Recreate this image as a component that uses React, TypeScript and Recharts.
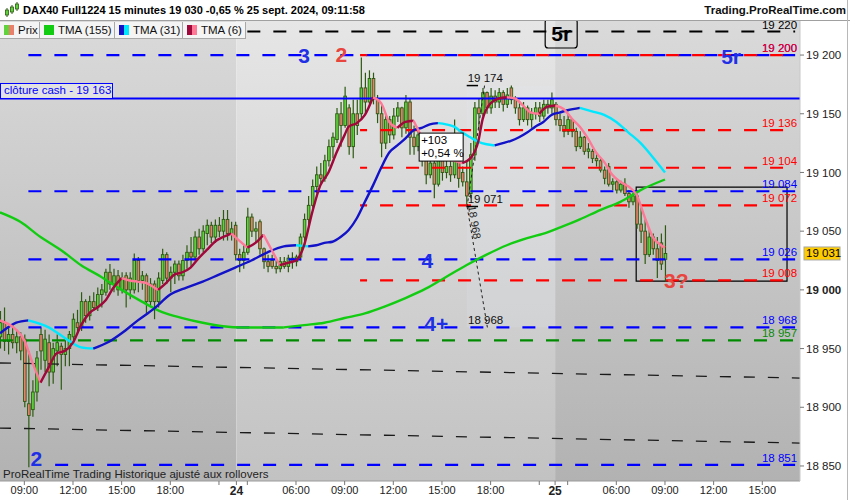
import React from "react";
import {
  ComposedChart,
  Bar,
  Line,
  XAxis,
  YAxis,
  ReferenceLine,
  ReferenceArea,
  ReferenceDot,
} from "recharts";

const FONT = "'Liberation Sans', Arial, sans-serif";
const W = 850;
const H = 500;

// visible window: slot 0 = 23 sept 07:30, one slot per 15-minute bar
const SLOT_MAX = 197.3;
const PRICE_MIN = 18837.2;
const PRICE_MAX = 19229;

// open, high, low, close of each 15-minute bar
const candles: [number, number, number, number][] = [
  [18960, 18982, 18950, 18972], [18972, 18985, 18948, 18956], [18956, 18968, 18945, 18962],
  [18962, 18970, 18950, 18955], [18955, 18966, 18946, 18960], [18960, 18964, 18940, 18948],
  [18958, 18962, 18900, 18905], [18903, 18948, 18849, 18893], [18898, 18923, 18892, 18913],
  [18913, 18948, 18905, 18942], [18962, 18968, 18932, 18948], [18940, 18966, 18930, 18958],
  [18955, 18962, 18918, 18930], [18930, 18955, 18920, 18950], [18948, 18962, 18935, 18955],
  [18952, 18955, 18915, 18945], [18945, 18957, 18935, 18950], [18950, 18965, 18935, 18962],
  [18960, 18980, 18955, 18975], [18972, 18983, 18962, 18968], [18968, 18998, 18965, 18990],
  [18990, 18992, 18972, 18978], [18978, 18995, 18974, 18990], [18990, 18998, 18982, 18985],
  [18986, 19002, 18982, 18996], [18996, 19005, 18985, 19000], [18998, 19018, 18995, 19015],
  [19015, 19022, 19000, 19005], [19005, 19018, 18998, 19012], [19012, 19017, 18995, 19000],
  [19000, 19015, 18997, 19010], [19012, 19015, 18985, 19000], [19000, 19015, 18992, 19010],
  [19000, 19031, 18997, 19025], [19025, 19028, 18998, 19008], [19008, 19016, 19000, 19012],
  [19012, 19014, 18980, 18990], [18990, 19010, 18987, 19005], [19005, 19008, 18975, 18990],
  [18990, 19015, 18985, 19010], [19008, 19035, 19005, 19030], [19030, 19032, 19005, 19010],
  [19010, 19020, 18998, 19015], [19015, 19025, 19005, 19022], [19022, 19025, 19008, 19012],
  [19012, 19030, 19008, 19025], [19025, 19038, 19018, 19032], [19032, 19045, 19020, 19028],
  [19028, 19050, 19025, 19045], [19045, 19052, 19030, 19035], [19035, 19055, 19032, 19050],
  [19048, 19060, 19038, 19055], [19055, 19058, 19040, 19045], [19045, 19060, 19040, 19055],
  [19055, 19062, 19045, 19050], [19050, 19068, 19042, 19060], [19060, 19068, 19042, 19048],
  [19048, 19058, 19042, 19052],
  // 24 sept
  [19055, 19058, 19025, 19030], [19030, 19035, 19015, 19025], [19025, 19038, 19018, 19032],
  [19032, 19070, 19030, 19062], [19062, 19065, 19045, 19050], [19050, 19058, 19040, 19052],
  [19058, 19060, 19030, 19035], [19035, 19036, 19018, 19024], [19024, 19030, 19015, 19020],
  [19025, 19030, 19018, 19020], [19020, 19025, 19014, 19018], [19018, 19028, 19015, 19024],
  [19024, 19028, 19018, 19020], [19020, 19030, 19015, 19027], [19027, 19032, 19018, 19024],
  [19024, 19030, 19020, 19028], [19028, 19048, 19025, 19045], [19045, 19065, 19038, 19060],
  [19060, 19080, 19055, 19072], [19072, 19094, 19070, 19088], [19088, 19105, 19082, 19098],
  [19098, 19108, 19090, 19095], [19095, 19115, 19092, 19110], [19110, 19128, 19105, 19122],
  [19122, 19134, 19112, 19130], [19128, 19155, 19125, 19150], [19150, 19160, 19122, 19140],
  [19140, 19173, 19138, 19165], [19155, 19158, 19115, 19122], [19122, 19162, 19112, 19150],
  [19150, 19162, 19132, 19140], [19150, 19198, 19145, 19172], [19172, 19185, 19150, 19160],
  [19160, 19187, 19158, 19180], [19180, 19185, 19158, 19163], [19163, 19166, 19142, 19150],
  [19150, 19158, 19113, 19125], [19125, 19150, 19120, 19145], [19145, 19148, 19125, 19132],
  [19132, 19155, 19128, 19148], [19148, 19160, 19143, 19155], [19155, 19156, 19130, 19138],
  [19138, 19166, 19133, 19160], [19160, 19163, 19115, 19130], [19130, 19140, 19115, 19122],
  [19122, 19138, 19118, 19132], [19132, 19133, 19105, 19112], [19112, 19118, 19090, 19098],
  [19098, 19115, 19095, 19108], [19108, 19112, 19078, 19090], [19090, 19120, 19088, 19112],
  [19112, 19113, 19093, 19100], [19100, 19110, 19095, 19105], [19105, 19118, 19092, 19098],
  [19098, 19145, 19095, 19112], [19112, 19115, 19087, 19095], [19100, 19105, 19088, 19092],
  [19092, 19110, 19071, 19080], [19082, 19125, 19078, 19115], [19115, 19160, 19110, 19155],
  [19155, 19163, 19135, 19150], [19150, 19172, 19148, 19168], [19168, 19169, 19150, 19155],
  [19155, 19172, 19150, 19165], [19165, 19170, 19155, 19160], [19160, 19172, 19155, 19168],
  [19168, 19170, 19152, 19158], [19158, 19172, 19155, 19166], [19172, 19174, 19158, 19162],
  [19162, 19165, 19150, 19155], [19155, 19160, 19140, 19145], [19145, 19160, 19143, 19155],
  [19155, 19157, 19140, 19145], [19145, 19155, 19138, 19150], [19150, 19160, 19145, 19155],
  [19155, 19160, 19143, 19148], [19148, 19162, 19145, 19158], [19158, 19162, 19150, 19155],
  [19155, 19168, 19150, 19162],
  // 25 sept
  [19158, 19160, 19140, 19145], [19145, 19150, 19135, 19140], [19140, 19148, 19130, 19135],
  [19135, 19150, 19132, 19145], [19145, 19146, 19130, 19135], [19135, 19138, 19118, 19122],
  [19122, 19135, 19120, 19130], [19130, 19131, 19115, 19118], [19118, 19125, 19112, 19120],
  [19118, 19120, 19108, 19112], [19112, 19116, 19105, 19110], [19110, 19112, 19100, 19102],
  [19102, 19105, 19090, 19095], [19105, 19108, 19088, 19090], [19090, 19095, 19085, 19092],
  [19092, 19094, 19082, 19085], [19085, 19093, 19083, 19090], [19090, 19095, 19080, 19082],
  [19082, 19085, 19070, 19075], [19075, 19083, 19072, 19080], [19080, 19082, 19052, 19056],
  [19056, 19070, 19040, 19050], [19050, 19060, 19022, 19030], [19030, 19052, 19028, 19045],
  [19045, 19048, 19030, 19035], [19035, 19045, 19010, 19025], [19040, 19048, 19017, 19022],
  [19026, 19055, 19007, 19031],
];

// moving averages, [slot, value]
const tma155: [number, number][] = [
  [0, 19066], [5, 19058], [10, 19045], [15, 19034], [20, 19021], [25, 19011], [30, 19000],
  [35, 18990], [40, 18981], [45, 18976], [50, 18972], [55, 18969], [60, 18968], [65, 18968],
  [70, 18968], [75, 18970], [80, 18972], [85, 18976], [90, 18980], [95, 18986], [100, 18993],
  [105, 19001], [110, 19011], [115, 19021], [120, 19030], [125, 19038], [130, 19044],
  [135, 19049], [138, 19053], [143, 19060], [148, 19068], [153, 19075], [158, 19085], [164, 19094],
];

const tma31: [number, number][] = [
  [0, 18963], [4, 18972], [7, 18974], [12, 18968], [16, 18959], [20, 18951], [23, 18950],
  [27, 18956], [30, 18963], [34, 18974], [38, 18984], [42, 18996], [46, 19002], [50, 19007],
  [54, 19013], [58, 19019], [62, 19025], [66, 19032], [70, 19037], [73, 19038], [76, 19037],
  [78, 19038], [80, 19040], [82, 19041], [84, 19045], [86, 19051], [88, 19061], [90, 19075],
  [92, 19089], [94, 19104], [96, 19117], [98, 19123], [100, 19129], [102, 19136], [104, 19138],
  [106, 19141], [108, 19142], [110, 19141], [112, 19139], [114, 19134], [116, 19130],
  [118, 19126], [120, 19124], [122, 19123], [124, 19125], [126, 19127], [128, 19130],
  [130, 19134], [132, 19139], [134, 19143], [136, 19149], [138, 19151], [140, 19153],
  [143, 19155], [146, 19152], [149, 19149], [152, 19143], [155, 19134], [158, 19125],
  [161, 19113], [164, 19100],
];

const tma6: [number, number][] = [
  [0, 18974], [2, 18971], [4, 18966], [6, 18957], [8, 18938], [10, 18921], [12, 18934],
  [14, 18946], [16, 18948], [18, 18955], [20, 18970], [22, 18980], [24, 18985], [26, 18991],
  [28, 19002], [30, 19010], [32, 19008], [34, 19007], [36, 19006], [38, 19002], [39, 19000],
  [41, 19006], [43, 19013], [45, 19015], [47, 19019], [49, 19027], [51, 19034], [53, 19041],
  [55, 19045], [57, 19048], [59, 19042], [61, 19036], [63, 19040], [65, 19047], [67, 19034],
  [69, 19021], [71, 19023], [73, 19025], [75, 19038], [77, 19066], [79, 19089], [81, 19100],
  [83, 19117], [85, 19132], [86, 19139], [88, 19142], [90, 19149], [92, 19164], [94, 19159],
  [96, 19143], [98, 19138], [100, 19143], [102, 19144], [104, 19130], [106, 19115],
  [108, 19112], [110, 19111], [112, 19110], [114, 19108], [116, 19112], [118, 19127],
  [119, 19145], [121, 19159], [123, 19163], [125, 19164], [127, 19163], [129, 19157],
  [131, 19151], [133, 19150], [135, 19156], [137, 19157], [139, 19154], [141, 19146],
  [143, 19139], [145, 19129], [147, 19117], [149, 19109], [151, 19098], [153, 19092],
  [155, 19088], [157, 19081], [159, 19062], [161, 19045], [163, 19038], [164, 19036],
];

// horizontal levels: [price, first slot]
const blueLevels: [number, number][] = [[19200, 7], [19084, 7], [19026, 7], [18968, 7], [18851, 13.6]];
const redLevels: [number, number][] = [[19200, 88.8], [19136, 88.8], [19104, 88.8], [19072, 88.8], [19008, 88.8]];
const greenLevels: [number, number][] = [[18957, 0]];
const blackLevels: [number, number][] = [[19220, 61]];
const LEVEL_END = 196.1;
const cashClose = 19163;
const lastPrice = 19031;

// sloping dashed channel lines: [[slot, price], [slot, price]]
const trendLines: [number, number][][] = [
  [[0, 18937.7], [197.3, 18924.9]],
  [[0, 18882.3], [197.3, 18869.5]],
];

// swing measured on 24 sept and its projection
const swingHigh: [number, number] = [119.5, 19174];
const swingLow: [number, number] = [115.2, 19071];
const projection: [number, number] = [120.2, 18968];

// rectangle drawn on 25 sept
const box25 = { x1: 156.9, x2: 194.1, y1: 19007.5, y2: 19087.5 };

// wave counts: [text, slot, price]
const blueWaves: [string, number, number][] = [
  ["3", 75, 19200], ["5r", 180.3, 19199], ["4", 105.4, 19025.4], ["4+", 107.6, 18971.8], ["2", 8.95, 18856.8],
];
const redWaves: [string, number, number][] = [["2", 84.2, 19200.9], ["3?", 166.8, 19008.4]];
const boxedWave: [string, number, number] = ["5r", 138.4, 19218.8];

// sessions: 23 | 24 | 25 sept
const sessionBreaks = [58.3, 136.9];

const timeTicks: [number, string][] = [
  [6, "09:00"], [18, "12:00"], [30, "15:00"], [42, "18:00"], [54, ""], [58.3, "24"], [61, ""],
  [73, "06:00"], [85, "09:00"], [97, "12:00"], [109, "15:00"], [121, "18:00"], [133, ""],
  [136.9, "25"], [140, ""], [152, "06:00"], [164, "09:00"], [176, "12:00"], [188, "15:00"],
];
const priceTicks = [18850, 18900, 18950, 19000, 19050, 19100, 19150, 19200];

const BLUE = "#0000ff";
const RED = "#ff0000";
const WICK = "#2c5a10";
const UP = "#5fd33c";
const DOWN = "#e8806c";

const fmt = (v: number) => {
  const s = Math.round(v).toString();
  return s.slice(0, -3) + " " + s.slice(-3);
};

const candleData = candles.map(([o, h, l, c], slot) => ({ slot, o, h, l, c, range: [l, h] }));

function splitByDirection(points: [number, number][]) {
  const segs: { up: boolean; pts: { slot: number; v: number }[] }[] = [];
  let dir: boolean | null = null;
  for (let i = 1; i < points.length; i++) {
    const [s0, v0] = points[i - 1];
    const [s1, v1] = points[i];
    const d = v1 > v0 ? true : v1 < v0 ? false : dir ?? true;
    if (d !== dir || segs.length === 0) {
      segs.push({ up: d, pts: [{ slot: s0, v: v0 }] });
      dir = d;
    }
    segs[segs.length - 1].pts.push({ slot: s1, v: v1 });
  }
  return segs;
}

const CandleShape = (props: any) => {
  const { x, y, width, height, payload } = props;
  if (!payload || x == null || y == null) return null;
  const { o, h, l, c } = payload;
  const top = Math.min(y, y + height);
  const hgt = Math.abs(height);
  const cx = x + width / 2;
  const span = h - l || 1;
  const py = (v: number) => top + ((h - v) / span) * hgt;
  const bTop = py(Math.max(o, c));
  const bBot = py(Math.min(o, c));
  return (
    <g>
      <line x1={cx} x2={cx} y1={top} y2={top + hgt} stroke={WICK} strokeWidth={1.2} />
      <rect
        x={cx - 1.3}
        y={bTop}
        width={2.6}
        height={Math.max(bBot - bTop, 1)}
        fill={c >= o ? UP : DOWN}
        stroke={WICK}
        strokeWidth={0.9}
      />
    </g>
  );
};

const TimeTick = (props: any) => {
  const { x, y, payload } = props;
  const label = timeTicks.find((t) => Math.abs(t[0] - payload.value) < 0.01)?.[1] ?? "";
  const bold = label.length === 2;
  return (
    <text x={x} y={y} dy="0.75em" textAnchor="middle" fontSize={bold ? 12 : 11} fontWeight={bold ? "bold" : "normal"} fill="#222" fontFamily={FONT}>
      {label}
    </text>
  );
};

const PriceTick = (props: any) => {
  const { x, y, payload } = props;
  return (
    <text x={x} y={y} dy="0.36em" textAnchor="start" fontSize={11.5} fontWeight={payload.value === 19000 ? "bold" : "normal"} fill="#222" fontFamily={FONT}>
      {fmt(payload.value)}
    </text>
  );
};

const levelLabel = (text: string, color: string) => (p: any) => {
  const vb = p.viewBox;
  return (
    <text x={vb.x + vb.width + 2} y={vb.y - 3} textAnchor="end" fontSize={11.5} fill={color} fontFamily={FONT}>
      {text}
    </text>
  );
};

const waveShape = (text: string, color: string) => (p: any) => (
  <text x={p.cx} y={p.cy} dy="0.36em" textAnchor="middle" fontSize={21} fontWeight="bold" fill={color} fontFamily={FONT}>
    {text}
  </text>
);

function LegendButton({ left, width, label, colors }: { left: number; width: number; label: string; colors: string[] }) {
  return (
    <div
      style={{
        position: "absolute",
        left,
        top: 22,
        width,
        height: 17,
        background: "#f4f4f4",
        borderRight: "1px solid #a8a8a8",
        borderBottom: "1px solid #a8a8a8",
        boxSizing: "border-box",
        fontSize: 11.5,
        lineHeight: "16px",
        color: "#111",
      }}
    >
      <span style={{ position: "absolute", left: 4, top: 3, width: 10, height: 10, display: "flex" }}>
        {colors.map((c) => (
          <span key={c} style={{ flex: 1, background: c }} />
        ))}
      </span>
      <span style={{ position: "absolute", left: 18, top: 0 }}>{label}</span>
    </div>
  );
}

export default function App() {
  const move = swingHigh[1] - swingLow[1];
  const pct = ((move / swingLow[1]) * 100).toFixed(2).replace(".", ",");
  const sessions = [0, ...sessionBreaks, SLOT_MAX];

  return (
    <div style={{ position: "relative", width: W, height: H, background: "#fff", fontFamily: FONT, overflow: "hidden" }}>
      <style>{"body{margin:0}"}</style>
      <ComposedChart width={W} height={H} data={candleData} margin={{ top: 21, right: 0, bottom: 0, left: 0 }}>
        <defs>
          <linearGradient id="bg-dark" x1="0" y1="0" x2="0" y2="1">
            <stop offset="0%" stopColor="#dadada" />
            <stop offset="100%" stopColor="#b2b2b2" />
          </linearGradient>
          <linearGradient id="bg-light" x1="0" y1="0" x2="0" y2="1">
            <stop offset="0%" stopColor="#e6e6e6" />
            <stop offset="100%" stopColor="#c2c2c2" />
          </linearGradient>
        </defs>
        <XAxis
          type="number"
          dataKey="slot"
          domain={[0, SLOT_MAX]}
          allowDataOverflow
          ticks={timeTicks.map((t) => t[0])}
          interval={0}
          tick={<TimeTick />}
          tickSize={4}
          tickMargin={1}
          height={19}
          axisLine={{ stroke: "#9a9a9a" }}
          tickLine={{ stroke: "#777" }}
        />
        <YAxis
          orientation="right"
          width={50}
          domain={[PRICE_MIN, PRICE_MAX]}
          allowDataOverflow
          ticks={priceTicks}
          interval={0}
          tick={<PriceTick />}
          tickSize={4}
          tickMargin={2}
          axisLine={{ stroke: "#c8c8c8" }}
          tickLine={{ stroke: "#777" }}
        />

        {sessions.slice(0, -1).map((s, i) => (
          <ReferenceArea
            key={"sess" + i}
            x1={s}
            x2={sessions[i + 1]}
            y1={PRICE_MIN}
            y2={PRICE_MAX}
            fill={i === 1 ? "url(#bg-light)" : "url(#bg-dark)"}
            fillOpacity={1}
            stroke="none"
          />
        ))}
        <ReferenceArea
          x1={swingLow[0]}
          x2={sessionBreaks[1]}
          y1={projection[1]}
          y2={swingHigh[1]}
          fill="#e4eaf6"
          fillOpacity={0.15}
          stroke="none"
        />

        <Bar dataKey="range" barSize={3} shape={<CandleShape />} isAnimationActive={false} />

        {trendLines.map((seg, i) => (
          <ReferenceLine
            key={"trend" + i}
            segment={seg.map(([x, y]) => ({ x, y }))}
            stroke="#1a1a1a"
            strokeWidth={1.3}
            strokeDasharray="11 13"
            ifOverflow="visible"
          />
        ))}

        {greenLevels.map(([p, s]) => (
          <ReferenceLine key={"g" + p} segment={[{ x: s, y: p }, { x: LEVEL_END, y: p }]} stroke="#008a00" strokeWidth={2.2} strokeDasharray="13 13" label={levelLabel(fmt(p), "#0a8a0a")} />
        ))}
        {blackLevels.map(([p, s]) => (
          <ReferenceLine key={"k" + p} segment={[{ x: s, y: p }, { x: LEVEL_END, y: p }]} stroke="#000" strokeWidth={2} strokeDasharray="13 13" label={levelLabel(fmt(p), "#000")} />
        ))}
        {blueLevels.map(([p, s]) => (
          <ReferenceLine key={"b" + p} segment={[{ x: s, y: p }, { x: LEVEL_END, y: p }]} stroke={BLUE} strokeWidth={2.2} strokeDasharray="13 13" label={levelLabel(fmt(p), BLUE)} />
        ))}
        {redLevels.map(([p, s]) => (
          <ReferenceLine key={"r" + p} segment={[{ x: s, y: p }, { x: LEVEL_END, y: p }]} stroke={RED} strokeWidth={2.2} strokeDasharray="13 13" strokeDashoffset={6} label={levelLabel(fmt(p), RED)} />
        ))}

        <ReferenceLine
          y={cashClose}
          stroke={BLUE}
          strokeWidth={2}
          label={(p: any) => (
            <g>
              <rect x={p.viewBox.x + 0.5} y={p.viewBox.y - 15} width={112} height={15} fill="#e2e2e2" stroke={BLUE} strokeWidth={1} />
              <text x={p.viewBox.x + 4} y={p.viewBox.y - 4} fontSize={11.5} fill={BLUE} fontFamily={FONT}>
                {"clôture cash -  " + fmt(cashClose)}
              </text>
            </g>
          )}
        />

        <ReferenceLine
          segment={[{ x: swingHigh[0], y: swingHigh[1] }, { x: swingLow[0], y: swingLow[1] }]}
          stroke="#222"
          strokeWidth={1}
          strokeDasharray="3 3"
        />
        <ReferenceLine
          segment={[{ x: swingLow[0], y: swingLow[1] }, { x: projection[0], y: projection[1] }]}
          stroke="#222"
          strokeWidth={1}
          strokeDasharray="3 3"
        />
        {[swingHigh, swingLow].map(([, p]) => (
          <ReferenceLine
            key={"mk" + p}
            segment={[{ x: swingLow[0] - 0.1, y: p }, { x: swingLow[0] + 2.7, y: p }]}
            stroke="#000"
            strokeWidth={1.5}
            label={(lp: any) => (
              <text x={lp.viewBox.x + 1} y={lp.viewBox.y - 4} fontSize={11.5} fill="#111" fontFamily={FONT}>
                {fmt(p)}
              </text>
            )}
          />
        ))}
        <ReferenceDot
          x={swingLow[0]}
          y={projection[1]}
          r={0}
          shape={(p: any) => (
            <text x={p.cx + 1} y={p.cy - 3} fontSize={11.5} fill="#111" fontFamily={FONT}>
              {fmt(projection[1])}
            </text>
          )}
        />
        <ReferenceDot
          x={swingLow[0] + 0.9}
          y={swingLow[1] - 14}
          r={0}
          shape={(p: any) => (
            <text x={p.cx} y={p.cy} transform={`rotate(81 ${p.cx} ${p.cy})`} textAnchor="middle" fontSize={11} fill="#222" fontFamily={FONT}>
              {fmt(projection[1])}
            </text>
          )}
        />

        <ReferenceArea x1={box25.x1} x2={box25.x2} y1={box25.y1} y2={box25.y2} fill="none" stroke="#000" strokeWidth={1.2} ifOverflow="visible" />

        {splitByDirection(tma155).map((seg, i) => (
          <Line key={"t155" + i} data={seg.pts} dataKey="v" type="monotone" stroke="#12cc12" strokeWidth={2.4} dot={false} activeDot={false} isAnimationActive={false} />
        ))}
        {splitByDirection(tma31).map((seg, i) => (
          <Line key={"t31" + i} data={seg.pts} dataKey="v" type="monotone" stroke={seg.up ? "#1212c8" : "#00e8ff"} strokeWidth={2.4} dot={false} activeDot={false} isAnimationActive={false} />
        ))}
        {splitByDirection(tma6).map((seg, i) => (
          <Line key={"t6" + i} data={seg.pts} dataKey="v" type="monotone" stroke={seg.up ? "#a0073a" : "#ff7896"} strokeWidth={2.4} dot={false} activeDot={false} isAnimationActive={false} />
        ))}

        <ReferenceDot
          x={swingLow[0] - 6.4}
          y={swingLow[1] + 50.6}
          r={0}
          shape={(p: any) => (
            <g>
              <rect x={p.cx - 22} y={p.cy - 14} width={44} height={28} fill="#fff" stroke="#000" strokeWidth={1} />
              <text x={p.cx - 20} y={p.cy - 3} fontSize={11.5} fill="#000" fontFamily={FONT}>{"+" + move}</text>
              <text x={p.cx - 20} y={p.cy + 10} fontSize={11.5} fill="#000" fontFamily={FONT}>{"+" + pct + " %"}</text>
            </g>
          )}
        />

        {blueWaves.map(([t, s, p]) => (
          <ReferenceDot key={"bw" + t + s} x={s} y={p} r={0} shape={waveShape(t, "#1f2fe6")} />
        ))}
        {redWaves.map(([t, s, p]) => (
          <ReferenceDot key={"rw" + t + s} x={s} y={p} r={0} shape={waveShape(t, "#e8453f")} />
        ))}
        <ReferenceDot
          x={boxedWave[1]}
          y={boxedWave[2]}
          r={0}
          shape={(p: any) => (
            <g>
              <rect x={p.cx - 16} y={p.cy - 14} width={32} height={29} rx={3} fill="none" stroke="#000" strokeWidth={1.2} />
              <text x={p.cx} y={p.cy} dy="0.36em" textAnchor="middle" fontSize={21} fontWeight="bold" fill="#000" fontFamily={FONT}>
                {boxedWave[0]}
              </text>
            </g>
          )}
        />

        <ReferenceLine
          y={lastPrice}
          stroke="none"
          label={(p: any) => (
            <g>
              <rect x={p.viewBox.x + p.viewBox.width + 4} y={p.viewBox.y - 6.5} width={36} height={13} fill="#ffcc00" stroke="#a8a8a8" strokeWidth={1} />
              <text x={p.viewBox.x + p.viewBox.width + 6} y={p.viewBox.y + 4} fontSize={11.5} fill="#000" fontFamily={FONT}>
                {fmt(lastPrice)}
              </text>
            </g>
          )}
        />
      </ComposedChart>

      {/* header */}
      <div style={{ position: "absolute", left: 0, top: 0, width: W, height: 21, background: "#fff", borderBottom: "1px solid #a0a0a0", boxSizing: "border-box" }}>
        <svg width={16} height={16} style={{ position: "absolute", left: 4, top: 2 }}>
          <line x1={3} x2={3} y1={6} y2={15} stroke={WICK} />
          <rect x={1.5} y={8} width={3} height={5} fill={UP} stroke={WICK} strokeWidth={0.8} />
          <line x1={8} x2={8} y1={3} y2={12} stroke={WICK} />
          <rect x={6.5} y={5} width={3} height={5} fill={UP} stroke={WICK} strokeWidth={0.8} />
          <line x1={13} x2={13} y1={0} y2={9} stroke={WICK} />
          <rect x={11.5} y={2} width={3} height={5} fill={UP} stroke={WICK} strokeWidth={0.8} />
        </svg>
        <span style={{ position: "absolute", left: 23, top: 4, fontSize: 11, fontWeight: "bold", color: "#000", whiteSpace: "nowrap" }}>
          DAX40 Full1224 15 minutes 19 030 -0,65 % 25 sept. 2024, 09:11:58
        </span>
        <span style={{ position: "absolute", right: 4, top: 4, fontSize: 11.5, fontWeight: "bold", color: "#111", whiteSpace: "nowrap" }}>
          Trading.ProRealTime.com
        </span>
      </div>

      <LegendButton left={0} width={40} label="Prix" colors={[UP, DOWN]} />
      <LegendButton left={40} width={75} label="TMA (155)" colors={["#12cc12"]} />
      <LegendButton left={115} width={68} label="TMA (31)" colors={["#1212c8", "#00e8ff"]} />
      <LegendButton left={183} width={63} label="TMA (6)" colors={["#a0073a", "#ff7896"]} />

      <div style={{ position: "absolute", left: 3, top: 468, fontSize: 11.5, color: "#222", whiteSpace: "nowrap" }}>
        ProRealTime Trading Historique ajusté aux rollovers
      </div>
      <div style={{ position: "absolute", left: W - 3, top: 0, width: 1, height: H, background: "#b8b8b8" }} />
    </div>
  );
}
